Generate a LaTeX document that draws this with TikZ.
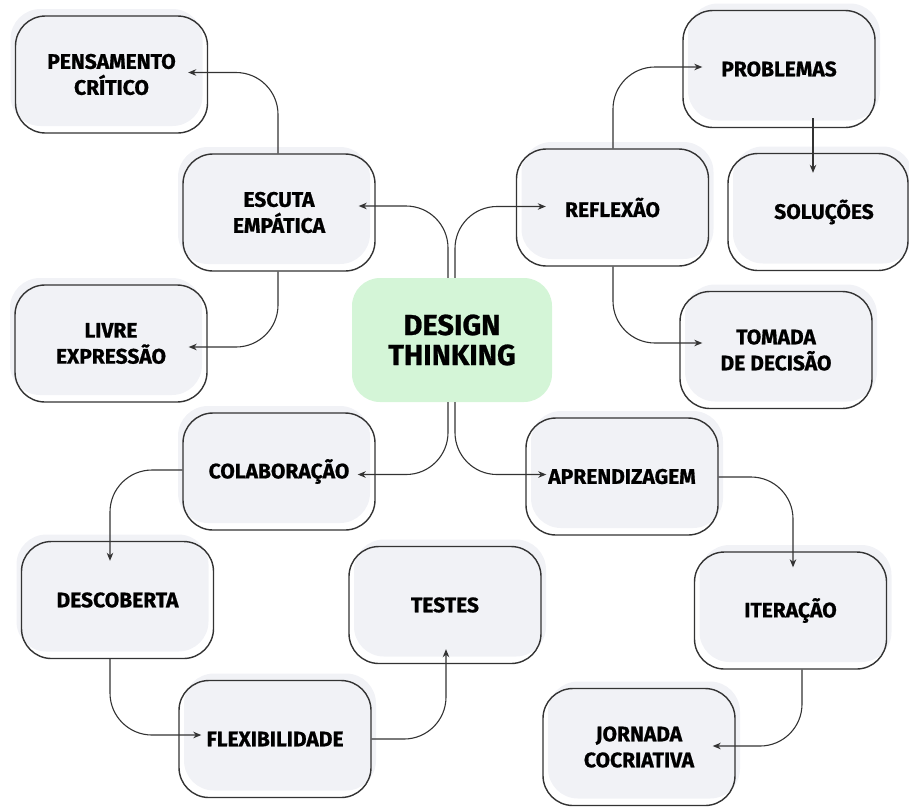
\documentclass[tikz,border=0pt]{standalone}
\usepackage{fontspec}
\setmainfont{Fira Sans}[BoldFeatures={FakeBold=0.8}]
\usepackage{tikz}
\usetikzlibrary{arrows.meta,calc}
\definecolor{cardgray}{HTML}{F1F2F6}
\definecolor{hubgreen}{HTML}{D4F5D7}
\definecolor{cardline}{HTML}{333333}
\tikzstyle{card}=[draw=cardline,line width=1.4pt,rounded corners=30pt,minimum width=192pt,minimum height=117pt,inner sep=0pt,align=center,font=\fontsize{21}{26}\selectfont\bfseries]
\tikzstyle{cardl}=[card,preaction={fill=cardgray,transform canvas={xshift=-5pt,yshift=7pt}}]
\tikzstyle{cardr}=[card,preaction={fill=cardgray,transform canvas={xshift=5pt,yshift=7pt}}]
\tikzstyle{hub}=[fill=hubgreen,rounded corners=28pt,minimum width=200pt,minimum height=124pt,inner sep=0pt,align=center,font=\fontsize{29}{30}\selectfont\bfseries]
\tikzstyle{link}=[draw=cardline,line width=1.1pt,rounded corners=42pt,-{Stealth[length=8pt,width=6.5pt,inset=2.5pt]}]
\begin{document}
\begin{tikzpicture}[x=1pt,y=-1pt]
  \useasboundingbox (0,0) rectangle (909,807);
  \clip (0,0) rectangle (909,807);
  \node[hub] (dt) at (452,340) {DESIGN\\THINKING};
%
  \node[cardl] (escuta) at (279,212.5) {ESCUTA\\EMPÁTICA};
  \node[cardl] (pensamento) at (111.5,74.5) {PENSAMENTO\\CRÍTICO};
  \node[cardl] (livre) at (111,343.5) {LIVRE\\EXPRESSÃO};
  \node[cardl] (colab) at (279,471.5) {COLABORAÇÃO};
  \node[cardl] (descoberta) at (117.5,600) {DESCOBERTA};
  \node[cardr] (flex) at (275,739) {FLEXIBILIDADE};
  \node[cardr] (testes) at (445,605) {TESTES};
%
  \node[cardr] (reflexao) at (612.5,207.5) {REFLEXÃO};
  \node[cardr] (problemas) at (779,69) {PROBLEMAS};
  \node[cardr,minimum width=180pt] (solucoes) at (818,212) {\hspace{12pt}SOLUÇÕES};
  \node[cardr] (tomada) at (776,350) {TOMADA\\DE DECISÃO};
  \node[cardr] (aprend) at (622,476.5) {APRENDIZAGEM};
  \node[cardr] (iteracao) at (790.5,610.5) {ITERAÇÃO};
  \node[cardr] (jornada) at (639,747) {JORNADA\\COCRIATIVA};
%
  \draw[link] ($(dt.north)+(-4,0)$) |- ($(escuta.east)+(-17,-6.5)$);
  \draw[link] ($(dt.north)+(3,0)$) |- ($(reflexao.west)+(30,-1)$);
  \draw[link] ($(dt.south)+(-4,0)$) |- ($(colab.east)+(-18,3)$);
  \draw[link] ($(dt.south)+(3,0)$) |- ($(aprend.west)+(21,-2)$);
  \draw[link] ($(escuta.north)+(-1,0)$) |- ($(pensamento.east)+(-20,-2)$);
  \draw[link] ($(escuta.south)+(-1,0)$) |- ($(livre.east)+(-19,3.5)$);
  \draw[link] ($(reflexao.north)+(0.5,0)$) |- ($(problemas.west)+(20,-2)$);
  \draw[link] ($(problemas.south)+(34,-10)$) -- ($(solucoes.north)+(-5,20)$);
  \draw[link] ($(reflexao.south)+(0.5,0)$) |- ($(tomada.west)+(23,-7)$);
  \draw[link] ($(aprend.east)+(0,0.5)$) -| ($(iteracao.north)+(2.5,16)$);
  \draw[link] ($(iteracao.south)+(11.5,0)$) |- ($(jornada.east)+(-23,-1)$);
  \draw[link] ($(colab.west)+(0,-1.5)$) -| ($(descoberta.north)+(-7.5,20)$);
  \draw[link] ($(descoberta.south)+(-7.5,0)$) |- ($(flex.west)+(23,-4)$);
  \draw[link] (flex.east) -| ($(testes.south)+(1,-15)$);
\end{tikzpicture}
\end{document}
